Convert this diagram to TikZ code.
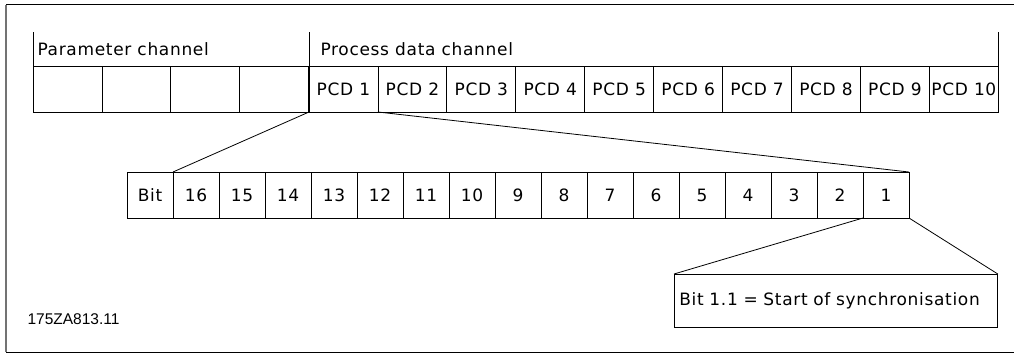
\documentclass[tikz,border=0pt]{standalone}
\usepackage{fontspec}
\setmainfont{DejaVu Sans}[LetterSpace=4]
\newfontfamily\codefont{Liberation Sans}
\usetikzlibrary{positioning}
\definecolor{FrameClr}{rgb}{0.45,0.45,0.45}

\begin{document}
\begin{tikzpicture}[x=1pt,y=-1pt,font=\fontsize{17}{18}\selectfont]
\tikzset{cell/.style={draw=black,line width=0.8pt,minimum width=68.93pt,minimum height=46pt,
    inner sep=0pt,outer sep=0pt,anchor=north west},
  bitcell/.style={cell,minimum width=46pt},
  link/.style={line width=0.8pt}}
\useasboundingbox (0,0) rectangle (1014,359);

% frame
\draw[line width=0.8pt] (6,4.5) -- (1014,4.5);
\draw[line width=0.8pt] (6,352) -- (1014,352);
\draw[FrameClr,line width=1.6pt] (6,4.5) -- (6,352);

% parameter and process data channel
\foreach \i in {1,...,4}
  \node[cell] (par\i) at ({33+68.93*(\i-1)},66) {};
\foreach \i in {1,...,10}
  \node[cell] (pcd\i) at ({309+68.93*(\i-1)},66) {PCD \i};

\draw[link] (par1.north west) -- +(0,-34);
\draw[link] (pcd1.north west) -- +(0,-34);
\draw[link] (pcd10.north east) -- +(0,-34);
\node[anchor=west] (parhead) at (34,49) {Parameter channel};
\node[anchor=west] (pcdhead) at (317,49) {Process data channel};

% bits of PCD 1
\node[bitcell] (bitlbl) at (127,172) {Bit};
\foreach \n [count=\i] in {16,15,...,1}
  \node[bitcell] (bit\n) at ({127+46*\i},172) {\n};

\node[draw=black,line width=0.8pt,anchor=north west,text width=313pt,inner xsep=5pt,
  minimum height=53pt,align=left] (sync) at (674,274) {Bit 1.1 = Start of synchronisation};

\draw[link] (pcd1.south west) -- (bit16.north west);
\draw[link] (pcd1.south east) -- (bit1.north east);
\draw[link] (bit1.south west) -- (sync.north west);
\draw[link] (bit1.south east) -- (sync.north east);

\node[anchor=west,font=\codefont\fontsize{15.5}{16}\selectfont] (code) at (24,319) {175ZA813.11};

\end{tikzpicture}
\end{document}
